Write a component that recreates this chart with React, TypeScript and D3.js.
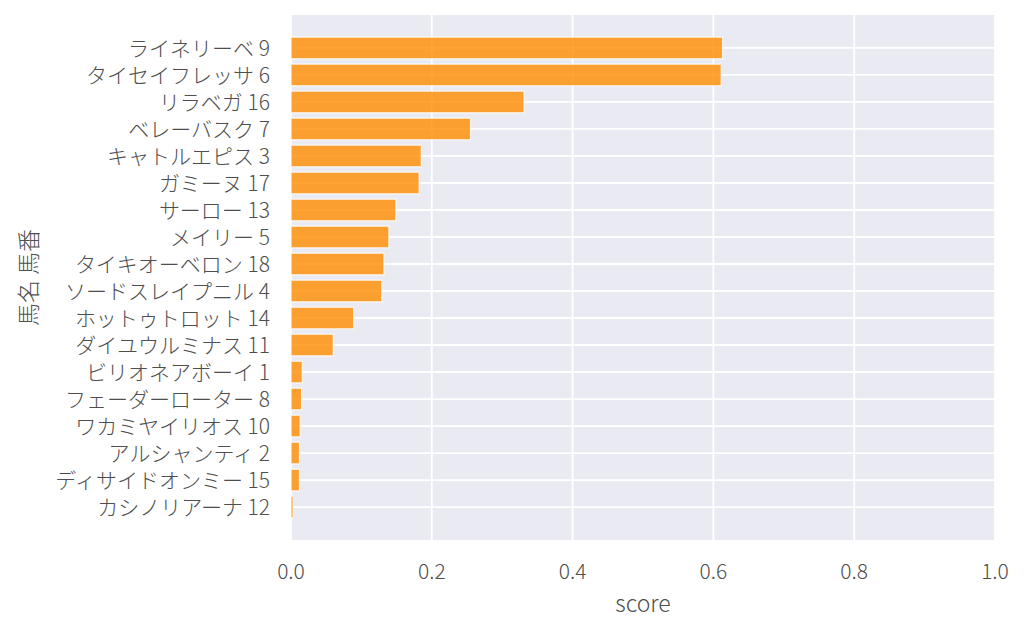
import React, { useEffect, useRef } from "react";
import * as d3 from "d3";

const horses = [
  "ライネリーベ 9",
  "タイセイフレッサ 6",
  "リラベガ 16",
  "ベレーバスク 7",
  "キャトルエピス 3",
  "ガミーヌ 17",
  "サーロー 13",
  "メイリー 5",
  "タイキオーベロン 18",
  "ソードスレイプニル 4",
  "ホットゥトロット 14",
  "ダイユウルミナス 11",
  "ビリオネアボーイ 1",
  "フェーダーローター 8",
  "ワカミヤイリオス 10",
  "アルシャンティ 2",
  "ディサイドオンミー 15",
  "カシノリアーナ 12",
];
const scores = [
  0.613, 0.611, 0.331, 0.255, 0.185, 0.182, 0.149, 0.139, 0.132, 0.129,
  0.089, 0.06, 0.016, 0.015, 0.013, 0.012, 0.012, 0.003,
];
const xTicks = [0, 0.2, 0.4, 0.6, 0.8, 1.0];
const xLabel = "score";
const yLabel = "馬名 馬番";

const W = 1024;
const H = 631;
const M = { left: 291, right: 995, top: 15, bottom: 540 };
const FONT = "'Noto Sans CJK JP Light', 'Noto Sans CJK JP', 'Noto Sans', sans-serif";

export default function App() {
  const ref = useRef<SVGSVGElement>(null);
  useEffect(() => {
    const svg = d3.select(ref.current);
    svg.selectAll("*").remove();
    const n = horses.length;
    const x = d3.scaleLinear().domain([0, 1]).range([M.left, M.right]);
    const pad = 1.22;
    const y = d3
      .scaleLinear()
      .domain([-pad, n - 1 + pad])
      .range([M.top, M.bottom]);
    const step = y(1) - y(0);

    svg
      .append("rect")
      .attr("x", M.left)
      .attr("y", M.top)
      .attr("width", M.right - M.left)
      .attr("height", M.bottom - M.top)
      .attr("fill", "#eaeaf2");

    const g = svg.append("g");
    g.selectAll("line.vg")
      .data(xTicks)
      .join("line")
      .attr("x1", (d) => x(d))
      .attr("x2", (d) => x(d))
      .attr("y1", M.top)
      .attr("y2", M.bottom)
      .attr("stroke", "#fff")
      .attr("stroke-width", 1.8);
    g.selectAll("line.hg")
      .data(horses)
      .join("line")
      .attr("x1", M.left)
      .attr("x2", M.right)
      .attr("y1", (_, i) => y(i))
      .attr("y2", (_, i) => y(i))
      .attr("stroke", "#fff")
      .attr("stroke-width", 1.8);

    g.selectAll("rect.bar")
      .data(scores)
      .join("rect")
      .attr("x", x(0))
      .attr("y", (_, i) => y(i) - step * 0.4)
      .attr("width", (d) => x(d) - x(0))
      .attr("height", step * 0.8)
      .attr("fill", "rgba(255,140,0,0.8)")
      .attr("stroke", "rgba(255,255,255,0.8)")
      .attr("stroke-width", 1.2);

    const txt = svg
      .append("g")
      .attr("font-family", FONT)
      .attr("font-weight", 300)
      .attr("fill", "#4e4e4e");

    txt
      .selectAll("text.yt")
      .data(horses)
      .join("text")
      .attr("x", M.left - 21)
      .attr("y", (_, i) => y(i))
      .attr("dy", "0.36em")
      .attr("text-anchor", "end")
      .attr("font-size", 21)
      .text((d) => d);

    txt
      .selectAll("text.xt")
      .data(xTicks)
      .join("text")
      .attr("x", (d) => x(d))
      .attr("y", 579)
      .attr("text-anchor", "middle")
      .attr("font-size", 21)
      .text((d) => d3.format(".1f")(d));

    txt
      .append("text")
      .attr("x", (M.left + M.right) / 2)
      .attr("y", 612)
      .attr("text-anchor", "middle")
      .attr("font-size", 23)
      .text(xLabel);

    txt
      .append("text")
      .attr("transform", `translate(37,${(M.top + M.bottom) / 2}) rotate(-90)`)
      .attr("text-anchor", "middle")
      .attr("font-size", 23)
      .text(yLabel);
  }, []);
  return (
    <svg
      ref={ref}
      width={W}
      height={H}
      style={{ position: "absolute", left: 0, top: 0, background: "#fff" }}
    />
  );
}
